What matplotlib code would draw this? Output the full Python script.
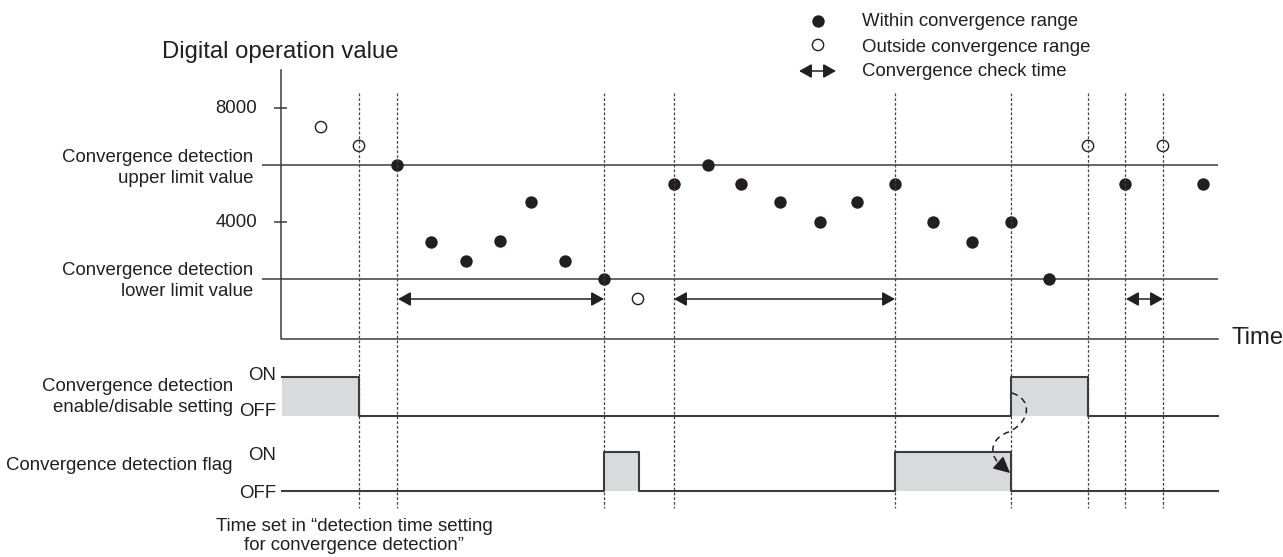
import numpy as np
import matplotlib
matplotlib.use("Agg")
import matplotlib.pyplot as plt
from matplotlib.path import Path
from matplotlib.patches import PathPatch

plt.rcParams['font.family'] = ['Liberation Sans', 'DejaVu Sans']

# sample times (horizontal position) and digital operation values
t_in = [397, 431, 466, 500, 531, 565, 604, 674, 708, 741, 780, 820, 857,
        895, 933, 972, 1011, 1049, 1125, 1203]
v_in = [6000, 3300, 2630, 3330, 4700, 2630, 2000, 5330, 6000, 5330, 4700,
        4000, 4700, 5330, 4000, 3300, 4000, 2000, 5330, 5330]
t_out = [321, 359, 638, 1088, 1163]
v_out = [7330, 6670, 1300, 6670, 6670]

upper_limit = 6000
lower_limit = 2000
y_ticks = [8000, 4000]

# convergence check time periods
check_periods = [(398, 604), (674, 895), (1126, 1163)]
# dotted time markers
markers_t = [359, 397, 604, 674, 895, 1011, 1088, 1125, 1163]

# enable/disable setting and detection flag (edges, states)
enable_edges = [282, 359, 1011, 1088, 1218]
enable_state = [1, 0, 1, 0]
flag_edges = [282, 604, 639, 895, 1011, 1218]
flag_state = [0, 1, 0, 1, 0]

W, H = 1283, 557
ZERO_PX = 336
PPU = 114 / 4000
ink = '#231f20'
line_c = '#3c3c3c'
fill_c = '#d9dadb'
fs = 13.4
arrow_style = '<|-|>,head_length=0.45,head_width=0.25'

fig = plt.figure(figsize=(W / 100, H / 100), dpi=100)
ax = fig.add_axes([0, 0, 1, 1])
ax.set_xlim(0, W)
ax.set_ylim(-(H - ZERO_PX) / PPU, ZERO_PX / PPU)
ax.axis('off')

ov = fig.add_axes([0, 0, 1, 1])
ov.set_xlim(0, W)
ov.set_ylim(H, 0)
ov.axis('off')
ov.patch.set_alpha(0)

# value plot
ax.hlines([upper_limit, lower_limit], 262, 1218, color=line_c, lw=1.1, zorder=1)
ax.hlines(y_ticks, 274, 287, color=line_c, lw=1.1, zorder=1)
for v in y_ticks:
    ax.text(257, v, str(v), ha='right', va='center', fontsize=fs, color=ink)
ax.scatter(t_in, v_in, s=80, color=ink, zorder=3, linewidths=0)
ax.scatter(t_out, v_out, s=66, facecolors='none', edgecolors=ink,
           linewidths=1.0, zorder=3)

# axes frame
ov.plot([281, 281, 1218], [70, 339, 339], color=line_c, lw=1.1)

for x in markers_t:
    ov.plot([x, x], [93, 508], color='#444444', lw=0.9,
            linestyle=(0, (2.2, 1.6)), zorder=0)

for a, b in check_periods:
    ov.annotate('', xy=(b, 299), xytext=(a, 299),
                arrowprops=dict(arrowstyle=arrow_style, color=ink, lw=1.1,
                                shrinkA=0, shrinkB=0, mutation_scale=17))

# signals
def draw_signal(edges, states, on_y, off_y):
    ys = [on_y if s else off_y for s in states]
    ov.step(edges, ys + [ys[-1]], where='post', color=line_c, lw=1.5)
    for i, s in enumerate(states):
        if s:
            ov.fill_between([edges[i], edges[i + 1]], on_y, off_y,
                            color=fill_c, lw=0, zorder=0)

draw_signal(enable_edges, enable_state, 377, 416)
draw_signal(flag_edges, flag_state, 452, 491)

# dashed curved arrow
verts = [(1012, 393), (1034, 400), (1030, 424), (1006, 433),
         (988, 441), (990, 458), (1003, 467)]
codes = [Path.MOVETO] + [Path.CURVE4] * 6
ov.add_patch(PathPatch(Path(verts, codes), fill=False, color=ink, lw=1.1,
                       linestyle=(0, (4, 3))))
ov.annotate('', xy=(1010, 473), xytext=(1002, 466),
            arrowprops=dict(arrowstyle='-|>,head_length=0.5,head_width=0.25',
                            color=ink, lw=1.0, shrinkA=0, shrinkB=0,
                            mutation_scale=20))

# legend
ov.scatter([818], [21], s=80, color=ink, linewidths=0)
ov.scatter([818], [45], s=66, facecolors='none', edgecolors=ink, linewidths=1.0)
ov.annotate('', xy=(836, 71), xytext=(799, 71),
            arrowprops=dict(arrowstyle=arrow_style, color=ink, lw=1.1,
                            shrinkA=0, shrinkB=0, mutation_scale=17))
for y, s in [(22, 'Within convergence range'), (47, 'Outside convergence range'),
             (72, 'Convergence check time')]:
    ov.text(862, y, s, ha='left', va='center', fontsize=fs, color=ink)

# labels
ov.text(280, 52, 'Digital operation value', ha='center', va='center',
        fontsize=17.2, color=ink)
ov.text(1232, 338, 'Time', ha='left', va='center', fontsize=17.2, color=ink)
ov.text(253, 168, 'Convergence detection\nupper limit value', ha='right',
        va='center', fontsize=fs, color=ink, linespacing=1.25)
ov.text(253, 281, 'Convergence detection\nlower limit value', ha='right',
        va='center', fontsize=fs, color=ink, linespacing=1.25)
ov.text(233, 397, 'Convergence detection\nenable/disable setting', ha='right',
        va='center', fontsize=fs, color=ink, linespacing=1.25)
ov.text(233, 465, 'Convergence detection flag', ha='right', va='center',
        fontsize=fs, color=ink)
for y, s in [(375, 'ON'), (411, 'OFF'), (455, 'ON'), (494, 'OFF')]:
    ov.text(276, y, s, ha='right', va='center', fontsize=fs, color=ink)
ov.text(354, 536, 'Time set in \u201cdetection time setting\nfor convergence detection\u201d',
        ha='center', va='center', fontsize=fs, color=ink, linespacing=1.15)

fig.savefig('out.png', dpi=100)
